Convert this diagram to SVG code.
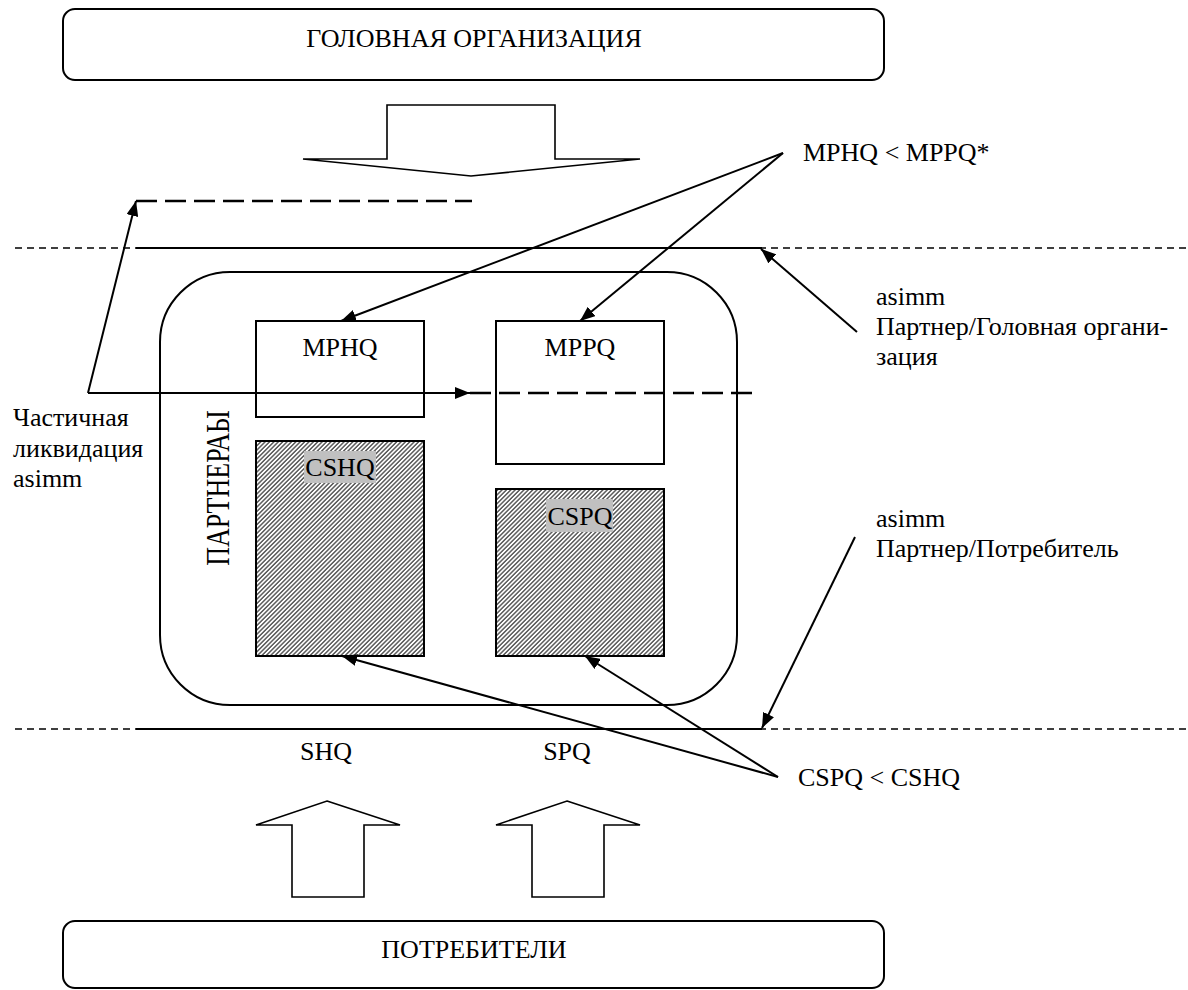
<svg xmlns="http://www.w3.org/2000/svg" width="1188" height="990" viewBox="0 0 1188 990">
<style>
.t{font-family:"Liberation Serif","Times New Roman",serif;font-size:26px;fill:#000}
.box{fill:#fff;stroke:#000;stroke-width:2}
.ln{fill:none;stroke:#000;stroke-width:2}
.dash{fill:none;stroke:#000;stroke-width:2.4;stroke-dasharray:21 8}
.div{fill:none;stroke:#000;stroke-width:1.5;stroke-dasharray:7 5}
.big{fill:#fff;stroke:#000;stroke-width:1.6}
.lab{fill:#c0c0c0}
</style>
<defs>
<marker id="ah" markerUnits="userSpaceOnUse" markerWidth="16" markerHeight="12" refX="15" refY="6" orient="auto">
<path d="M0,0 L15,6 L0,12 z" fill="#000"/>
</marker>
<pattern id="hatch" width="3.1" height="3.1" patternUnits="userSpaceOnUse" patternTransform="rotate(45)">
<rect width="3.1" height="3.1" fill="#fff"/>
<line x1="0.8" y1="0" x2="0.8" y2="3.1" stroke="#2a2a2a" stroke-width="1.15"/>
</pattern>
</defs>

<g id="head">
<rect class="box" x="63" y="9" width="821" height="71" rx="12"/>
<text class="t" x="474" y="47" text-anchor="middle">ГОЛОВНАЯ ОРГАНИЗАЦИЯ</text>
</g>

<g id="down-arrow">
<polygon class="big" points="303,159 387,159 387,105 555,105 555,159 640,159 471,176"/>
</g>

<g id="dividers">
<line class="div" x1="15" y1="248" x2="1188" y2="248"/>
<line class="ln" x1="136" y1="248" x2="762" y2="248"/>
<line class="div" x1="15" y1="729" x2="1188" y2="729"/>
<line class="ln" x1="136" y1="729" x2="762" y2="729"/>
</g>

<g id="partners">
<rect class="box" x="160" y="272" width="577" height="433" rx="70"/>
<text class="t" transform="translate(229,488) rotate(-90) scale(1,1.3)" text-anchor="middle">ПАРТНЕРАЫ</text>
</g>

<g id="mphq">
<rect class="box" x="256" y="321" width="168" height="96"/>
<text class="t" x="340" y="356" text-anchor="middle">MPHQ</text>
</g>
<g id="mppq">
<rect class="box" x="496" y="321" width="168" height="143"/>
<text class="t" x="580" y="356" text-anchor="middle">MPPQ</text>
</g>
<g id="cshq">
<rect x="256" y="441" width="168" height="215" fill="url(#hatch)" stroke="#000" stroke-width="2"/>
<rect class="lab" x="304" y="451" width="72" height="32"/>
<text class="t" x="340" y="476" text-anchor="middle">CSHQ</text>
</g>
<g id="cspq">
<rect x="496" y="489" width="168" height="167" fill="url(#hatch)" stroke="#000" stroke-width="2"/>
<rect class="lab" x="546" y="499" width="67" height="33"/>
<text class="t" x="580" y="525" text-anchor="middle">CSPQ</text>
</g>

<g id="connectors">
<line class="dash" x1="136" y1="201" x2="472" y2="201"/>
<line class="ln" x1="88" y1="393" x2="136" y2="201" marker-end="url(#ah)"/>
<line class="ln" x1="88" y1="393" x2="470" y2="393" marker-end="url(#ah)"/>
<line class="dash" x1="470" y1="393" x2="760" y2="393"/>
<line class="ln" x1="783" y1="153" x2="341" y2="321" marker-end="url(#ah)"/>
<line class="ln" x1="783" y1="153" x2="580" y2="321" marker-end="url(#ah)"/>
<line class="ln" x1="857" y1="332" x2="761" y2="249" marker-end="url(#ah)"/>
<line class="ln" x1="855" y1="537" x2="762" y2="728" marker-end="url(#ah)"/>
<line class="ln" x1="778" y1="777" x2="342" y2="656" marker-end="url(#ah)"/>
<line class="ln" x1="778" y1="777" x2="585" y2="656" marker-end="url(#ah)"/>
</g>

<g id="labels">
<text class="t" x="803" y="161">MPHQ &lt; MPPQ*</text>
<text class="t" x="876" y="305">asimm</text>
<text class="t" x="876" y="335">Партнер/Головная органи-</text>
<text class="t" x="876" y="365">зация</text>
<text class="t" x="13" y="426">Частичная</text>
<text class="t" x="13" y="457">ликвидация</text>
<text class="t" x="13" y="487">asimm</text>
<text class="t" x="876" y="527">asimm</text>
<text class="t" x="876" y="557">Партнер/Потребитель</text>
<text class="t" x="798" y="786">CSPQ &lt; CSHQ</text>
<text class="t" x="326" y="760" text-anchor="middle">SHQ</text>
<text class="t" x="567" y="760" text-anchor="middle">SPQ</text>
</g>

<g id="up-arrows">
<polygon class="big" points="327,801 400,825 364,825 364,897 292,897 292,825 256,825"/>
<polygon class="big" points="567,801 640,825 604,825 604,897 532,897 532,825 496,825"/>
</g>

<g id="consumers">
<rect class="box" x="63" y="921" width="821" height="67" rx="12"/>
<text class="t" x="474" y="958" text-anchor="middle">ПОТРЕБИТЕЛИ</text>
</g>
</svg>
